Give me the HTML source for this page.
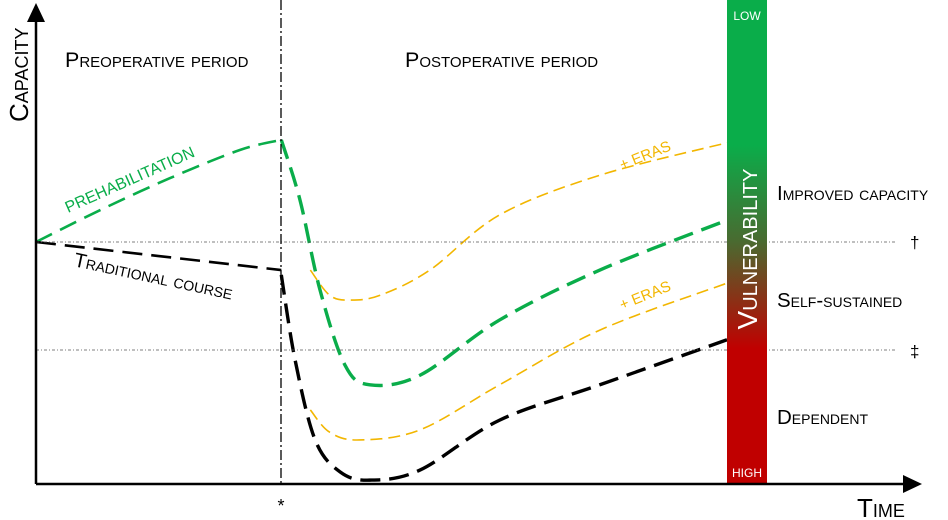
<!DOCTYPE html>
<html><head><meta charset="utf-8"><style>
body{margin:0;background:#fff}
svg{display:block;font-family:"Liberation Sans",sans-serif}
</style></head><body>
<svg id="c" width="948" height="520" viewBox="0 0 948 520">
<defs><linearGradient id="vg" x1="0" y1="0" x2="0" y2="1">
<stop offset="0" stop-color="#0aad4a"/><stop offset="0.3" stop-color="#0aad4a"/>
<stop offset="0.5" stop-color="#4a6a30"/><stop offset="0.72" stop-color="#c00000"/><stop offset="1" stop-color="#c00000"/></linearGradient></defs>
<g id="marks"></g>
<g>
<line x1="36" y1="242" x2="897" y2="242" stroke="#555" stroke-width="0.8" stroke-dasharray="3 2 1 2"/>
<line x1="36" y1="350" x2="897" y2="350" stroke="#555" stroke-width="0.8" stroke-dasharray="3 2 1 2"/>
</g>
<line x1="281" y1="0" x2="281" y2="484" stroke="#000" stroke-width="1.3" stroke-dasharray="10 3 2 3"/>
<rect x="727" y="0" width="40" height="484" fill="url(#vg)"/>
<text x="747" y="20" fill="#fff" font-size="12" text-anchor="middle">LOW</text>
<text x="747" y="477" fill="#fff" font-size="12" text-anchor="middle">HIGH</text>
<text transform="translate(757,249) rotate(-90)" fill="#fff" font-size="28" text-anchor="middle" style="font-variant:small-caps">Vulnerability</text>
<line x1="36" y1="484" x2="36" y2="20" stroke="#000" stroke-width="2.5"/>
<polygon points="36,3 27,22 45,22" fill="#000"/>
<line x1="36" y1="484" x2="905" y2="484" stroke="#000" stroke-width="2.5"/>
<polygon points="922,484 903,475 903,493" fill="#000"/>
<text transform="translate(28,122) rotate(-90)" font-size="26" style="font-variant:small-caps">Capacity</text>
<text x="857" y="517" font-size="26" style="font-variant:small-caps">Time</text>
<text x="281" y="512" font-size="18" text-anchor="middle">*</text>
<text x="65" y="67" font-size="21.5" style="font-variant:small-caps">Preoperative period</text>
<text x="405" y="67" font-size="21.5" style="font-variant:small-caps">Postoperative period</text>
<text x="777" y="200" font-size="20.5" style="font-variant:small-caps">Improved capacity</text>
<text x="777" y="307" font-size="20.5" style="font-variant:small-caps">Self-sustained</text>
<text x="777" y="424" font-size="20.5" style="font-variant:small-caps">Dependent</text>
<text x="910" y="248" font-size="17">†</text>
<text x="910" y="357" font-size="17">‡</text>
<text transform="translate(68,213) rotate(-24)" fill="#0aad4a" font-size="16">PREHABILITATION</text>
<text transform="translate(73,266) rotate(12)" font-size="20" style="font-variant:small-caps">Traditional course</text>
<text transform="translate(622,170) rotate(-22)" fill="#f2b600" font-size="15">+ ERAS</text>
<text transform="translate(622,310) rotate(-22)" fill="#f2b600" font-size="15">+ ERAS</text>
</svg>
<script>
const prehabPreT=[0,9.3,19.4,29.5,35.5];
const prehabPreC=[50,56.6,63.2,69,71.1];
const prehabPostT=[35.5,38.2,41.1,44.7,48.3,55.6,67.1,81.6,100];
const prehabPostC=[71.1,58.7,40.1,24.6,20.5,22.5,33.9,44.2,54.5];
const tradPreT=[0,35.5];
const tradPreC=[50,44.2];
const tradPostT=[35.5,37.5,40.4,44,48.3,55.6,67.1,81.6,100];
const tradPostC=[43.2,25.6,9.1,2.5,0.8,2.9,13.2,20.5,29.8];
const erasUpT=[39.7,42.5,45.4,49.8,57,67.1,81.6,100];
const erasUpC=[44.2,39,38,39,44.2,55.6,63.8,70.5];
const erasLowT=[39.7,42.5,46.8,55.6,67.1,81.6,100];
const erasLowC=[15.3,10.7,9.1,11.2,20.5,31.8,41.5];
const xS=t=>36+t*6.91, yS=c=>484-c*4.84;
function path(T,C){const p=T.map((t,i)=>[xS(t),yS(C[i])]);let d=`M${p[0][0]},${p[0][1]}`;
for(let i=0;i<p.length-1;i++){const p0=p[i-1]||p[i],p1=p[i],p2=p[i+1],p3=p[i+2]||p2;
d+=` C${p1[0]+(p2[0]-p0[0])/6},${p1[1]+(p2[1]-p0[1])/6} ${p2[0]-(p3[0]-p1[0])/6},${p2[1]-(p3[1]-p1[1])/6} ${p2[0]},${p2[1]}`;}return d;}
const g=document.getElementById('marks');
function add(T,C,col,w,dash,name){const e=document.createElementNS('http://www.w3.org/2000/svg','path');
e.setAttribute('d',path(T,C));e.setAttribute('fill','none');e.setAttribute('stroke',col);
e.setAttribute('stroke-width',w);e.setAttribute('stroke-dasharray',dash);


g.appendChild(e);}
add(erasUpT,erasUpC,'#f2b600',1.6,'12 6','eras-upper-line');
add(erasLowT,erasLowC,'#f2b600',1.6,'12 6','eras-lower-line');
add(prehabPreT,prehabPreC,'#0aad4a',2.6,'18 9','prehab-pre-line');
add(prehabPostT,prehabPostC,'#0aad4a',3.4,'20 9','prehab-post-line');
add(tradPreT,tradPreC,'#000',2.6,'20 9','traditional-pre-line');
add(tradPostT,tradPostC,'#000',3.4,'20 9','traditional-post-line');
</script>
</body></html>
